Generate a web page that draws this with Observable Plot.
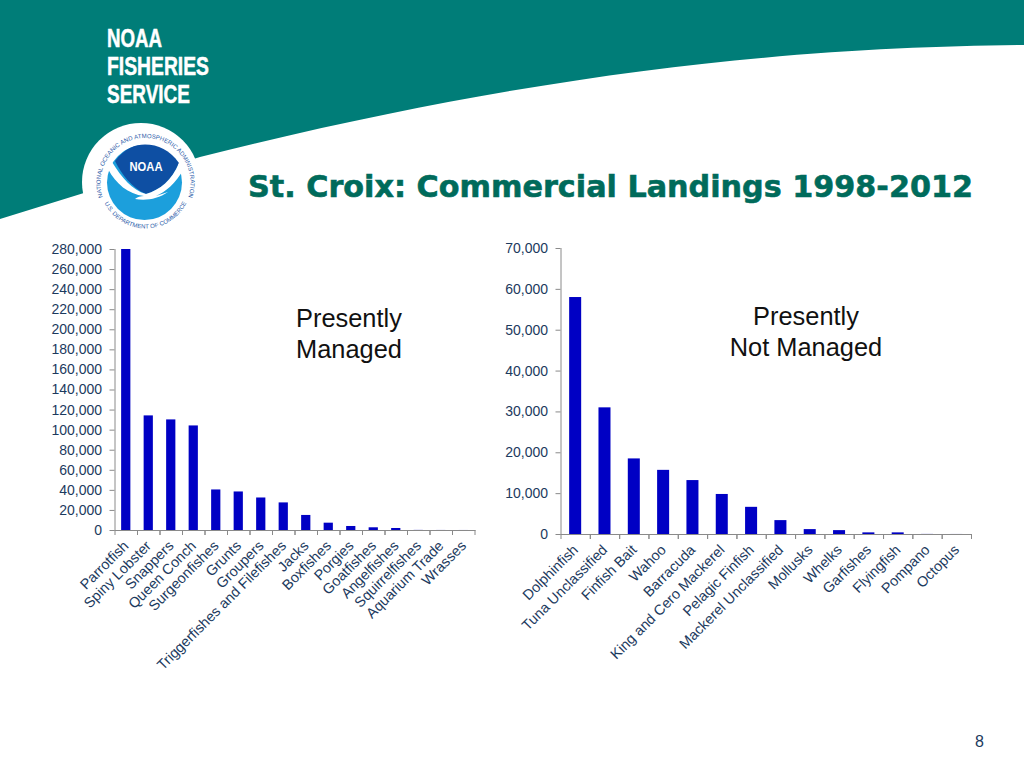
<!DOCTYPE html>
<html><head><meta charset="utf-8">
<script src="https://cdn.jsdelivr.net/npm/d3@7"></script>
<script src="https://cdn.jsdelivr.net/npm/@observablehq/plot@0.6"></script>
<style>
html,body{margin:0;padding:0;background:#fff;overflow:hidden}
#page{position:relative;width:1024px;height:768px;overflow:hidden;font-family:"Liberation Sans",Arial,sans-serif}
#page>svg,#page>div{position:absolute}
.note{font-size:25.4px;line-height:31px;color:#111;white-space:nowrap}
</style></head><body>
<div id="page">
<svg id="decor" width="1024" height="768" style="left:0;top:0" font-family="Liberation Sans">
  <path d="M0,0H1024V45C820,47 560,66 200,157L0,219Z" fill="#007d78"/>
  <g fill="#fff" stroke="#fff" stroke-width="0.5" font-weight="700" font-size="26">
    <text x="107" y="47" textLength="55" lengthAdjust="spacingAndGlyphs">NOAA</text>
    <text x="107" y="75" textLength="102" lengthAdjust="spacingAndGlyphs">FISHERIES</text>
    <text x="107" y="103" textLength="83" lengthAdjust="spacingAndGlyphs">SERVICE</text>
  </g>
  <circle cx="141" cy="182" r="59" fill="#fff"/>
  <circle cx="144.5" cy="182.5" r="37.5" fill="#1c9fdc"/>
  <path d="M115,161C125,148 135,144.5 145,144.5C158,144.5 170,150 179,163C172,180 160,190 146,194C132,188 122,175 115,161Z" fill="#0e4fa3"/>
  <path d="M108,169L112,162C122,178 132,190 146,194C160,190 172,180 179,163L184,168C176,184 165,192 156,196L168,192C158,199 146,201 135,199C137,197 141,196 144,196C128,194 116,184 108,169Z" fill="#fff"/>
  <text x="146" y="171" text-anchor="middle" fill="#fff" font-weight="700" font-size="13" textLength="33" lengthAdjust="spacingAndGlyphs">NOAA</text>
  <defs>
    <path id="ringTop" d="M145.5,228A45,45 0 1 1 145.51,228"/>
    <path id="ringBot" d="M145.5,137.5A45.5,45.5 0 1 0 145.51,137.5"/>
  </defs>
  <text font-size="6" fill="#2a5aa8"><textPath href="#ringTop" startOffset="50%" text-anchor="middle">NATIONAL OCEANIC AND ATMOSPHERIC ADMINISTRATION</textPath></text>
  <text font-size="6" fill="#2a5aa8"><textPath href="#ringBot" startOffset="50%" text-anchor="middle">U.S. DEPARTMENT OF COMMERCE</textPath></text>
  <text x="248" y="197" fill="#006b5b" stroke="#006b5b" stroke-width="0.6" font-family="DejaVu Sans" font-weight="700" font-size="31" textLength="725" lengthAdjust="spacingAndGlyphs">St. Croix: Commercial Landings 1998-2012</text>
</svg>
<div class="note" style="left:296px;top:303px">Presently<br>Managed</div>
<div class="note" style="left:706px;width:200px;top:301px;text-align:center">Presently<br>Not Managed</div>
<div style="left:975px;top:733px;font-size:16px;color:#1c3a5e">8</div>
</div>
<script>
const managedCategories = ["Parrotfish","Spiny Lobster","Snappers","Queen Conch","Surgeonfishes","Grunts","Groupers","Triggerfishes and Filefishes","Jacks","Boxfishes","Porgies","Goatfishes","Angelfishes","Squirrelfishes","Aquarium Trade","Wrasses"];
const managedValues = [280000,114200,110200,104200,40400,38400,32400,27500,15000,7300,4000,2700,2000,100,50,30];
const managedTicks = [0,20000,40000,60000,80000,100000,120000,140000,160000,180000,200000,220000,240000,260000,280000];
const notManagedCategories = ["Dolphinfish","Tuna Unclassified","Finfish Bait","Wahoo","Barracuda","King and Cero Mackerel","Pelagic Finfish","Mackerel Unclassified","Mollusks","Whelks","Garfishes","Flyingfish","Pompano","Octopus"];
const notManagedValues = [58000,31000,18500,15700,13200,9800,6650,3400,1200,950,400,400,20,10];
const notManagedTicks = [0,10000,20000,30000,40000,50000,60000,70000];

const ink = "#1c3a5e", axisGray = "#8a8a8a", barBlue = "#0000c4";

function chart({cats, vals, ticks, left, top, width, height, ml, mr, mt, mb}) {
  const step = (width - ml - mr) / cats.length;
  const rows = cats.map((c, i) => ({c, v: vals[i]}));
  const p = Plot.plot({
    width, height, marginLeft: ml, marginRight: mr, marginTop: mt, marginBottom: mb,
    style: {background: "transparent", fontFamily: "Liberation Sans", fontSize: "14px", overflow: "visible"},
    x: {domain: cats, paddingInner: 0.59, paddingOuter: 0.295, round: false, label: null},
    y: {domain: [0, ticks[ticks.length - 1]], label: null},
    marks: [
      Plot.barY(rows, {x: "c", y: "v", fill: barBlue}),
      Plot.frame({anchor: "left", stroke: axisGray}),
      Plot.frame({anchor: "bottom", stroke: axisGray}),
      Plot.axisY({ticks, tickFormat: d3.format(","), tickSize: 5, tickPadding: 8, stroke: axisGray, fill: ink, label: null, fontSize: 14}),
      Plot.axisX({tickSize: 5, tickFormat: () => "", dx: -step / 2, stroke: axisGray, label: null}),
      Plot.axisX({tickSize: 5, tickFormat: () => "", dx: step / 2, stroke: axisGray, label: null}),
      Plot.axisX({tickSize: 0, tickRotate: -45, tickPadding: 13, fill: ink, label: null, fontSize: 14.4})
    ]
  });
  p.style.left = left + "px"; p.style.top = top + "px";
  document.getElementById("page").appendChild(p);
}
chart({cats: managedCategories, vals: managedValues, ticks: managedTicks, left: 0, top: 230, width: 500, height: 470, ml: 114.5, mr: 25.5, mt: 19, mb: 170});
chart({cats: notManagedCategories, vals: notManagedValues, ticks: notManagedTicks, left: 500, top: 230, width: 524, height: 470, ml: 60.5, mr: 53, mt: 18, mb: 166});
</script>
</body></html>
